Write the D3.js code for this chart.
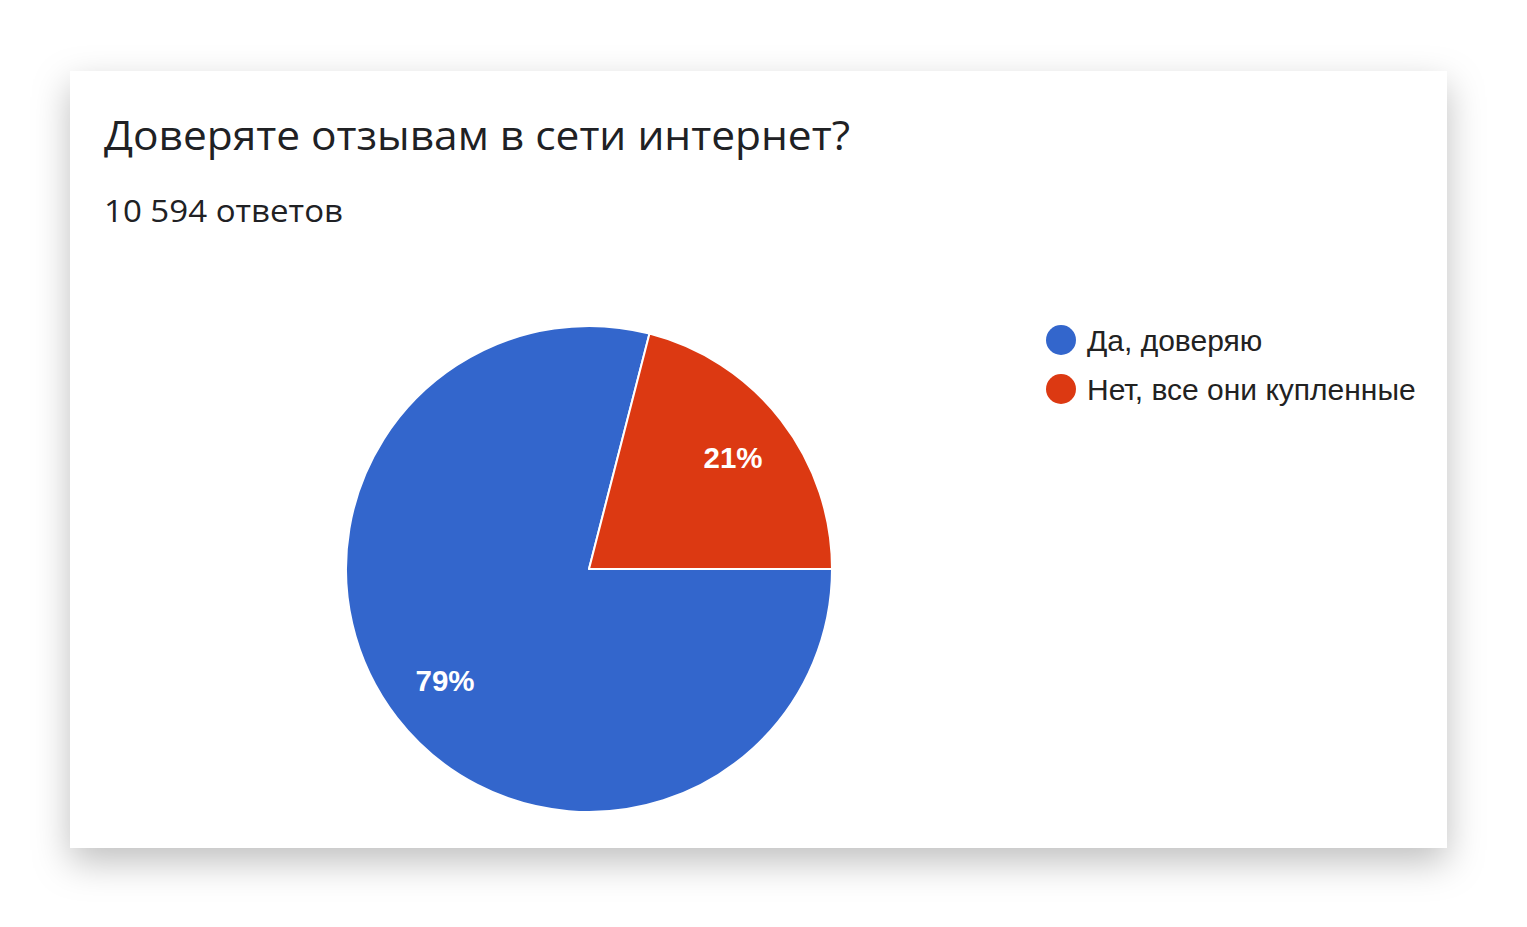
<!DOCTYPE html>
<html>
<head>
<meta charset="utf-8">
<script src="https://cdn.jsdelivr.net/npm/d3@7"></script>
<style>
  html, body { margin: 0; padding: 0; background: #fff; }
  svg { display: block; }
</style>
</head>
<body>
<svg id="chart" width="1527" height="927"></svg>
<script>
// chart data
var categories = ["Да, доверяю", "Нет, все они купленные"];
var values = [79, 21];
var colors = ["#3366cc", "#dc3912"];
var title = "Доверяте отзывам в сети интернет?";
var subtitle = "10 594 ответов";

var W = 1527, H = 927;
var svg = d3.select("#chart");

// card shadow
var defs = svg.append("defs");
var f = defs.append("filter").attr("id", "shadow")
    .attr("x", "-10%").attr("y", "-10%").attr("width", "120%").attr("height", "130%");
f.append("feDropShadow").attr("dx", 0).attr("dy", 14).attr("stdDeviation", 18)
    .attr("flood-color", "#000").attr("flood-opacity", 0.25);

svg.append("rect")
    .attr("x", 70).attr("y", 71)
    .attr("width", 1377).attr("height", 777)
    .attr("fill", "#fff")
    .attr("filter", "url(#shadow)");

// titles
svg.append("text")
    .attr("x", 104).attr("y", 150)
    .attr("font-family", "'Open Sans', Roboto, sans-serif")
    .attr("font-size", 40)
    .attr("fill", "#202124")
    .attr("textLength", 746)
    .attr("lengthAdjust", "spacingAndGlyphs")
    .text(title);

svg.append("text")
    .attr("x", 104).attr("y", 222)
    .attr("font-family", "'Open Sans', Roboto, sans-serif")
    .attr("font-size", 31)
    .attr("fill", "#202124")
    .attr("textLength", 239)
    .attr("lengthAdjust", "spacingAndGlyphs")
    .text(subtitle);

// pie
var cx = 589, cy = 569, r = 243;
var pie = d3.pie().sort(null)
    .startAngle(Math.PI / 2)
    .endAngle(Math.PI / 2 + 2 * Math.PI);
var arc = d3.arc().innerRadius(0).outerRadius(r);
var labelArc = d3.arc().innerRadius(r * 0.75).outerRadius(r * 0.75);
var total = d3.sum(values);

var g = svg.append("g").attr("transform", "translate(" + cx + "," + cy + ")");
var arcs = pie(values);

g.selectAll("path")
    .data(arcs)
    .enter()
    .append("path")
    .attr("d", arc)
    .attr("fill", function (d, i) { return colors[i]; })
    .attr("stroke", "#fff")
    .attr("stroke-width", 2)
    .attr("stroke-linejoin", "round");

g.selectAll("text.pct")
    .data(arcs)
    .enter()
    .append("text")
    .attr("class", "pct")
    .attr("transform", function (d) { return "translate(" + labelArc.centroid(d) + ")"; })
    .attr("text-anchor", "middle")
    .attr("dy", "0.36em")
    .attr("font-family", "'Liberation Sans', Arial, sans-serif")
    .attr("font-weight", "bold")
    .attr("font-size", 29.5)
    .attr("fill", "#fff")
    .text(function (d) { return Math.round(d.value / total * 100) + "%"; });

// legend
var legend = svg.append("g").attr("transform", "translate(1061,340)");
var items = legend.selectAll("g")
    .data(categories)
    .enter()
    .append("g")
    .attr("transform", function (d, i) { return "translate(0," + i * 49 + ")"; });

items.append("circle")
    .attr("r", 15)
    .attr("fill", function (d, i) { return colors[i]; });

items.append("text")
    .attr("x", 26)
    .attr("dy", "0.36em")
    .attr("font-family", "'Liberation Sans', Arial, sans-serif")
    .attr("font-size", 30)
    .attr("fill", "#222")
    .text(function (d) { return d; });
</script>
</body>
</html>
